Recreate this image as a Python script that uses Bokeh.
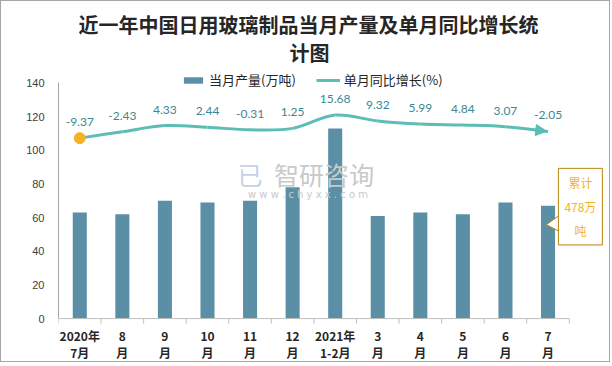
import math
from bokeh.plotting import figure
from bokeh.models import (Range1d, FixedTicker, Label, Legend, LegendItem,
                          Arrow, NormalHead, ColumnDataSource, Title)
from bokeh.core.properties import value
from bokeh.embed import file_html
from bokeh.resources import INLINE

# ---- data ----
months = ["2020年\n7月", "8\n月", "9\n月", "10\n月", "11\n月", "12\n月",
          "2021年\n1-2月", "3\n月", "4\n月", "5\n月", "6\n月", "7\n月"]
output = [63, 62, 70, 69, 70, 78, 113, 61, 63, 62, 69, 67]
growth = [-9.37, -2.43, 4.33, 2.44, -0.31, 1.25, 15.68, 9.32, 5.99, 4.84, 3.07, -2.05]
y_ticks = [0, 20, 40, 60, 80, 100, 120, 140]
total_note = "累计\n478万\n吨"

BAR = "#5b8fa6"
LINE = "#5cbdb5"
LBL = "#3c8791"
ORANGE = "#f5b324"
GOLD = "#b8860b"
AXIS = "#bfbfbf"
CJK = "Noto Sans CJK SC"

xs = list(range(len(months)))
n = len(xs)

p = figure(width=610, height=362, output_backend="svg", toolbar_location=None,
           x_range=Range1d(-0.5, n - 0.5 + 0.85), y_range=Range1d(-26.7, 148),
           min_border_left=57, min_border_right=6, min_border_bottom=0, min_border_top=68)
p.outline_line_color = None
p.xgrid.visible = False
p.ygrid.visible = False
p.background_fill_color = "white"
p.border_fill_color = "white"
p.xaxis.visible = False
p.styles = {"border": "1px solid #a6a6a6"}

# titles (two lines)
p.title.text = "近一年中国日用玻璃制品当月产量及单月同比增长统"
p.title.align = "left"
p.title.offset = 20
p.title.text_font = CJK
p.title.text_font_size = "20px"
p.title.text_color = "#262626"
p.title.standoff = -11
t2 = Title(text="计图", align="left", offset=231, text_font=CJK, text_font_size="20px",
           text_color="#262626", standoff=5)
p.add_layout(t2, "above")

# secondary range for growth line
p.extra_y_ranges = {"growth": Range1d(-254.2, 65.2)}

# bars
src = ColumnDataSource(dict(x=xs, y=output))
bars = p.vbar(x="x", top="y", width=0.33, source=src, fill_color=BAR, line_color=None)

# category axis (line, boundary ticks, two-line labels)
p.segment(x0=[xs[0] - 0.5], x1=[xs[-1] + 0.5], y0=[0], y1=[0], line_color=AXIS, line_width=1)
p.ray(x=[i - 0.5 for i in range(n + 1)], y=[0] * (n + 1), length=5, length_units="screen",
      angle=-math.pi / 2, line_color=AXIS, line_width=1)
p.text(x=xs, y=[0] * n, text=months, y_offset=25, text_align="center", text_baseline="middle",
       text_font=value(CJK), text_font_style="bold", text_font_size="12px",
       text_color="#262626", text_line_height=1.0)

# smooth growth line (Catmull-Rom bezier through the data points)
x0, y0, x1, y1, cx0, cy0, cx1, cy1 = [], [], [], [], [], [], [], []
for i in range(n - 1):
    im1 = max(i - 1, 0)
    ip2 = min(i + 2, n - 1)
    x0.append(xs[i]); y0.append(growth[i])
    x1.append(xs[i + 1]); y1.append(growth[i + 1])
    cx0.append(xs[i] + (xs[i + 1] - xs[im1]) / 6)
    cy0.append(growth[i] + (growth[i + 1] - growth[im1]) / 6)
    cx1.append(xs[i + 1] - (xs[ip2] - xs[i]) / 6)
    cy1.append(growth[i + 1] - (growth[ip2] - growth[i]) / 6)
curve = p.bezier(x0=x0, y0=y0, x1=x1, y1=y1, cx0=cx0, cy0=cy0, cx1=cx1, cy1=cy1,
                 line_color=LINE, line_width=3, y_range_name="growth")

# arrow head at the end
dx = xs[-1] - xs[-2]
dy = growth[-1] - growth[-2]
arr = Arrow(end=NormalHead(size=11, fill_color=LINE, line_color=LINE),
            x_start=xs[-1] - 0.3 * dx, y_start=growth[-1] - 0.3 * dy,
            x_end=xs[-1] - 0.03, y_end=growth[-1] - 0.03 * dy, line_color=LINE, line_width=3,
            y_range_name="growth")
p.add_layout(arr)

# first point marker
p.scatter(x=[xs[0]], y=[growth[0]], size=11, fill_color=ORANGE, line_color=ORANGE,
          y_range_name="growth")

# data labels
p.text(x=xs, y=growth, text=[f"{g:.2f}" for g in growth], y_offset=-16,
       text_align="center", text_baseline="middle", text_font=value("Lato"),
       text_font_size="12px", text_color=LBL, y_range_name="growth")

# watermark
p.add_layout(Label(x=5.74, y=86, text="智研咨询", text_font=CJK, text_font_size="25px",
                   text_color="#c9c9c9", text_align="center", text_baseline="middle"))
p.add_layout(Label(x=5.36, y=73.6, text="w w w . c h y x x . c o m", text_font="DejaVu Sans",
                   text_font_size="10px", text_color="#c9c9c9", text_align="center",
                   text_baseline="middle"))
p.add_layout(Label(x=4.0, y=86, text="已", text_font=CJK, text_font_size="25px",
                   text_color="#c5d3e6", text_align="center", text_baseline="middle"))

# callout box with pointer to the last bar
last = xs[-1]
p.add_layout(Label(x=last + 0.76, y=66.5, text=total_note, text_font=CJK, text_font_size="12px",
                   text_color=ORANGE, text_align="center", text_baseline="middle",
                   text_line_height=1.4, border_line_color=GOLD,
                   background_fill_color="white", padding=6))
p.patch(x=[last - 0.04, last + 0.25, last + 0.25], y=[55.8, 52.0, 61.0], fill_color="white",
        line_color=GOLD, line_width=1)
p.segment(x0=[last + 0.255], x1=[last + 0.255], y0=[52.8], y1=[60.2], line_color="white",
          line_width=2)

# value axis
ya = p.yaxis[0]
ya.bounds = (0, 140)
ya.ticker = FixedTicker(ticks=y_ticks)
ya.major_tick_line_color = None
ya.major_tick_out = 0
ya.major_tick_in = 0
ya.minor_tick_line_color = None
ya.axis_line_color = "#a6a6a6"
ya.major_label_text_font = "Liberation Sans"
ya.major_label_text_font_size = "11px"
ya.major_label_text_color = "#404040"
ya.major_label_standoff = 14

# legend
legend = Legend(items=[LegendItem(label="当月产量(万吨)", renderers=[bars]),
                       LegendItem(label="单月同比增长(%)", renderers=[curve])],
                orientation="horizontal", location=(123, 274),
                label_text_font=CJK, label_text_font_size="13px", label_text_color="#262626",
                glyph_width=24, glyph_height=8, label_height=14, label_standoff=4,
                spacing=20, padding=0, margin=0, border_line_color=None,
                background_fill_alpha=0)
p.add_layout(legend, "center")

open("out.html", "w").write(file_html(p, INLINE))
